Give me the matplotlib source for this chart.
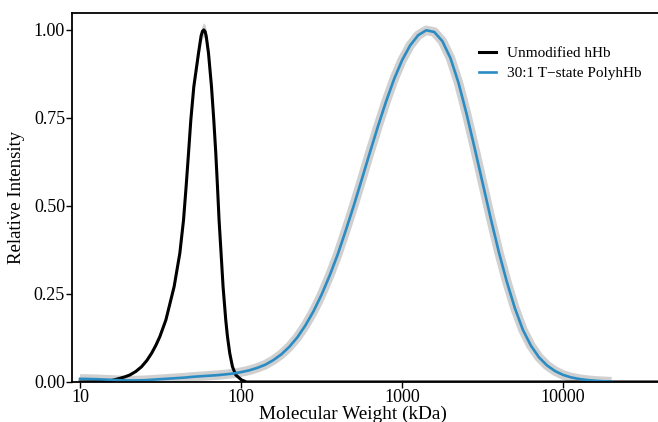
import numpy as np
import matplotlib
matplotlib.use("Agg")
import matplotlib.pyplot as plt
from matplotlib.ticker import NullLocator

plt.rcParams['font.family'] = ['Liberation Serif', 'DejaVu Serif']

# unmodified hHb, log10(MW in kDa) vs relative intensity
hhb_logmw = [1.0, 1.12, 1.186, 1.248, 1.28, 1.31, 1.347, 1.3825, 1.415, 1.4445,
             1.471, 1.496, 1.5332, 1.5846, 1.62, 1.6429, 1.659, 1.6739, 1.6882,
             1.7068, 1.7359, 1.752, 1.7604, 1.7688, 1.777, 1.7838, 1.7979,
             1.8165, 1.8308, 1.8432, 1.8537, 1.8636, 1.876, 1.8884, 1.9051,
             1.9157, 1.93, 1.9467, 1.9671, 2.0025, 2.0335, 2.2, 3.0, 4.6]
hhb_y = [0.0, 0.001, 0.003, 0.0105, 0.0148, 0.020, 0.030, 0.0435, 0.061, 0.0815,
         0.104, 0.129, 0.176, 0.271, 0.366, 0.460, 0.555, 0.650, 0.744,
         0.839, 0.934, 0.983, 0.996, 1.0, 0.995, 0.982, 0.934,
         0.839, 0.744, 0.650, 0.555, 0.460, 0.366, 0.271, 0.176,
         0.129, 0.0815, 0.0435, 0.020, 0.006, 0.0, 0.0, 0.0, 0.0]
# spread between replicates, only visible around the hHb peak
hhb_sd = [0.0, 0.0, 0.0, 0.0, 0.0, 0.0, 0.001, 0.002, 0.002, 0.003,
          0.003, 0.004, 0.005, 0.006, 0.008, 0.009, 0.010, 0.011, 0.012,
          0.014, 0.016, 0.018, 0.019, 0.02, 0.019, 0.018, 0.016,
          0.014, 0.012, 0.011, 0.010, 0.009, 0.008, 0.006, 0.005,
          0.004, 0.003, 0.002, 0.001, 0.0, 0.0, 0.0, 0.0, 0.0]

# 30:1 T-state PolyhHb
poly_logmw = [1.00, 1.05, 1.10, 1.15, 1.20, 1.25, 1.30, 1.35, 1.40, 1.45,
              1.50, 1.55, 1.60, 1.65, 1.70, 1.75, 1.80, 1.85, 1.90, 1.95,
              2.00, 2.05, 2.10, 2.15, 2.20, 2.25, 2.30, 2.35, 2.40, 2.45,
              2.50, 2.55, 2.60, 2.65, 2.70, 2.75, 2.80, 2.85, 2.90, 2.95,
              3.00, 3.05, 3.10, 3.15, 3.20, 3.25, 3.30, 3.35, 3.40, 3.45,
              3.50, 3.55, 3.60, 3.65, 3.70, 3.75, 3.80, 3.85, 3.90, 3.95,
              4.00, 4.05, 4.10, 4.15, 4.20, 4.25, 4.30]
poly_y = [0.009, 0.0085, 0.008, 0.007, 0.006, 0.005, 0.0045, 0.0045, 0.005, 0.0065,
          0.008, 0.0095, 0.011, 0.0125, 0.0147, 0.0163, 0.0178, 0.0193, 0.0215, 0.024,
          0.028, 0.033, 0.040, 0.049, 0.062, 0.0785, 0.100, 0.127, 0.161, 0.201,
          0.248, 0.302, 0.362, 0.430, 0.501, 0.576, 0.652, 0.726, 0.796, 0.860,
          0.914, 0.956, 0.985, 0.999, 0.994, 0.968, 0.920, 0.850, 0.762, 0.665,
          0.565, 0.465, 0.370, 0.285, 0.210, 0.148, 0.103, 0.070, 0.047, 0.031,
          0.020, 0.013, 0.0085, 0.0055, 0.0035, 0.002, 0.001]

labels = ["Unmodified hHb", "30:1 T\u2212state PolyhHb"]
blue = "#2b8cc4"
grey = "#d0d0d0"

hhb_x = 10 ** np.array(hhb_logmw)
poly_x = 10 ** np.array(poly_logmw)

fig = plt.figure(figsize=(6.58, 4.22), dpi=100)
ax = fig.add_axes([0.1094, 0.0948, 0.8906, 0.8744])

# grey ribbons behind the curves
ax.fill_between(hhb_x, np.array(hhb_y) - np.array(hhb_sd),
                np.array(hhb_y) + np.array(hhb_sd), color=grey, lw=0)
ax.plot(poly_x, poly_y, color=grey, lw=6.8, solid_capstyle='butt')

ax.plot(hhb_x, hhb_y, color="black", lw=2.2, label=labels[0])
ax.plot(poly_x, poly_y, color=blue, lw=1.9, label=labels[1])

ax.set_xscale("log")
ax.set_xlim(8.92, 38800)
ax.set_ylim(0, 1.048)
ax.set_xticks([10, 100, 1000, 10000])
ax.set_xticklabels(["10", "100", "1000", "10000"])
ax.xaxis.set_minor_locator(NullLocator())
ax.set_yticks([0, 0.25, 0.5, 0.75, 1.0])
ax.set_yticklabels(["0.00", "0.25", "0.50", "0.75", "1.00"])
ax.tick_params(length=4, width=1, labelsize=13, pad=1, colors="black")

ax.spines["right"].set_visible(False)
for s in ["left", "top", "bottom"]:
    ax.spines[s].set_linewidth(1.3)

ax.set_xlabel("Molecular Weight (kDa)", fontsize=13.9, labelpad=0)
ax.xaxis.set_label_coords((353 - 72) / 586, -0.063)
ax.set_ylabel("Relative Intensity", fontsize=13.5, labelpad=6)

ax.legend(loc="upper left", bbox_to_anchor=(0.671, 0.946), frameon=False,
          fontsize=11, handlelength=1.1, handletextpad=0.75, labelspacing=0.42)

fig.savefig("out.png", dpi=100)
